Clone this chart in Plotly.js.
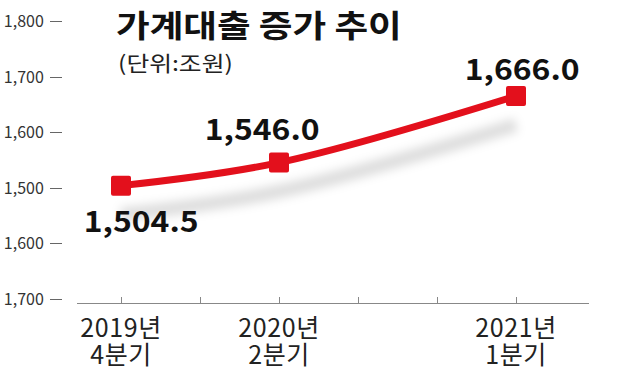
<!DOCTYPE html>
<html>
<head>
<meta charset="utf-8">
<script src="https://cdn.plot.ly/plotly-3.0.1.min.js"></script>
<style>
html,body{margin:0;padding:0;background:#fff;}
#chart{width:640px;height:372px;}
#chart .gtitle{transform-box:fill-box;transform-origin:left center;transform:scaleX(1.18);}
#chart .annotation-text{transform-box:fill-box;transform-origin:center;transform:scaleX(1.1);}
#chart .annotation[data-index="3"] .annotation-text{transform-origin:left center;transform:scaleX(1.18);}
#chart .x2y2 .js-line{filter:blur(5px);}
#chart .xtick text, #chart .x2tick text{letter-spacing:0.6px;}
#chart .scatterlayer .point{stroke-linejoin:round;}
</style>
</head>
<body>
<div id="chart"></div>
<script>
// ---- data ----
const quarters = ['2019Q4','2020Q1','2020Q2','2020Q3','2020Q4','2021Q1'];
const xTickYear = ['2019년','','2020년','','','2021년'];
const xTickQuarter = ['4분기','','2분기','','','1분기'];
const pointQuarters = ['2019Q4','2020Q2','2021Q1'];
const values = [1504.5, 1546.0, 1666.0];
const yTickVals = [1800, 1700, 1600, 1500, 1400, 1300];
const yTickText = ['1,800','1,700','1,600','1,500','1,600','1,700'];
const titleText = '가계대출 증가 추이';
const unitText = '(단위:조원)';

const FONT = '"Noto Sans CJK KR", "Noto Sans", sans-serif';
const RED = '#e3101c';

const fmt = v => v.toLocaleString('en-US', {minimumFractionDigits: 1, maximumFractionDigits: 1});

const yRange = [1293, 1830];
const xRange = [-0.557, 5.924];
const shadowShift = 52;

const traces = [
  {x: pointQuarters, y: values, xaxis: 'x2', yaxis: 'y2', mode: 'lines',
   line: {shape: 'spline', color: 'rgba(0,0,0,0.13)', width: 14}, hoverinfo: 'skip', showlegend: false},
  {x: pointQuarters, y: values, xaxis: 'x', yaxis: 'y', mode: 'lines+markers',
   line: {shape: 'spline', color: RED, width: 7},
   marker: {symbol: 'square', size: 16, color: RED, line: {color: RED, width: 4}},
   showlegend: false}
];

const labelShifts = [[20, -33], [-17, 36], [6, 29]];
const annotations = values.map((v, i) => ({
  x: pointQuarters[i], y: v, xref: 'x', yref: 'y',
  text: fmt(v), showarrow: false,
  xshift: labelShifts[i][0], yshift: labelShifts[i][1],
  font: {family: FONT, size: 29, color: '#111', weight: 700}
}));
annotations.push({
  xref: 'paper', yref: 'paper', x: 0, y: 1, xanchor: 'left', yanchor: 'top',
  text: unitText, showarrow: false, xshift: 54, yshift: -40,
  font: {family: FONT, size: 21, color: '#222'}
});

const baseX = {
  type: 'category', categoryorder: 'array', categoryarray: quarters,
  range: xRange, domain: [15/527, 1], anchor: 'y',
  tickmode: 'array', tickvals: quarters,
  showgrid: false, zeroline: false,
  tickfont: {family: FONT, size: 25, color: '#222'}
};

const layout = {
  width: 640, height: 372,
  margin: {l: 62, r: 51, t: 5, b: 69},
  paper_bgcolor: '#fff', plot_bgcolor: 'rgba(0,0,0,0)',
  title: {text: titleText, x: 116/640, xanchor: 'left', xref: 'container',
          y: 1 - 26/372, yanchor: 'middle', yref: 'container',
          font: {family: FONT, size: 31, color: '#111', weight: 700}},
  xaxis: Object.assign({}, baseX, {
    ticktext: xTickYear,
    ticks: 'inside', ticklen: 6, tickcolor: '#888', tickwidth: 1,
    showline: true, linecolor: '#888', linewidth: 1,
    ticklabelstandoff: 3
  }),
  xaxis2: Object.assign({}, baseX, {
    overlaying: 'x', side: 'bottom',
    ticktext: xTickQuarter, ticks: '', showline: false,
    ticklabelstandoff: 35
  }),
  yaxis: {
    range: yRange, anchor: 'free', position: 0,
    tickmode: 'array', tickvals: yTickVals, ticktext: yTickText,
    ticks: 'outside', ticklen: 12, tickcolor: '#666', tickwidth: 1,
    showline: false, showgrid: false, zeroline: false, ticklabelstandoff: 3,
    tickfont: {family: FONT, size: 16, color: '#333'}
  },
  yaxis2: {
    range: [yRange[0] + shadowShift, yRange[1] + shadowShift], overlaying: 'y',
    anchor: 'free', position: 0, visible: false, showgrid: false, zeroline: false
  },
  annotations: annotations,
  showlegend: false
};

Plotly.newPlot('chart', traces, layout, {displayModeBar: false, staticPlot: true});
</script>
</body>
</html>
